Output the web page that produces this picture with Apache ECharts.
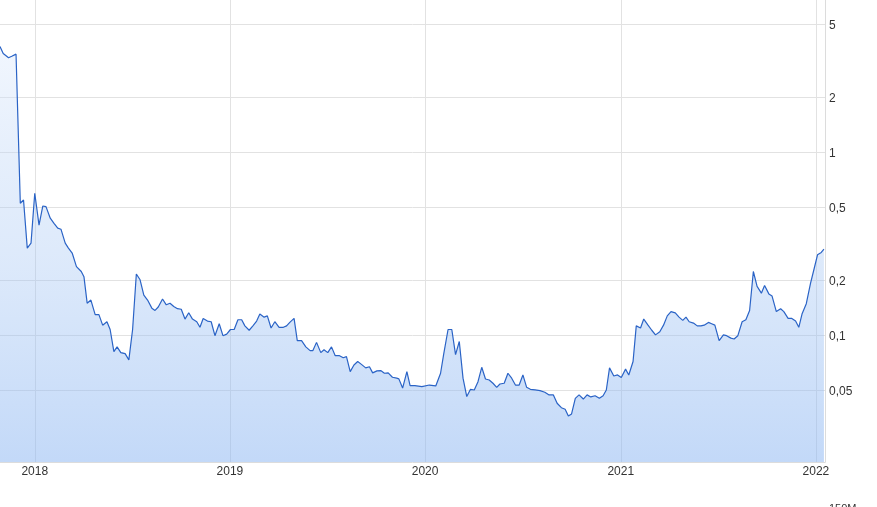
<!DOCTYPE html>
<html>
<head>
<meta charset="utf-8">
<script src="https://cdn.jsdelivr.net/npm/echarts@6/dist/echarts.min.js"></script>
<style>html,body{margin:0;padding:0;background:#fff}#c{width:877px;height:507px}</style>
</head>
<body>
<div id="c"></div>
<script>
// Dates (weekly-ish readings)
const dates = [
 '2017-10-28','2017-11-03','2017-11-13','2017-11-19','2017-11-27','2017-12-05','2017-12-11','2017-12-18','2017-12-25',
 '2018-01-01','2018-01-09','2018-01-16','2018-01-22','2018-01-30','2018-02-06','2018-02-13','2018-02-19','2018-02-27','2018-03-05','2018-03-12','2018-03-20','2018-03-29','2018-04-03','2018-04-09','2018-04-16','2018-04-24','2018-05-01','2018-05-08','2018-05-16','2018-05-22','2018-05-29','2018-06-04','2018-06-11','2018-06-19','2018-06-26','2018-07-03','2018-07-10',
 '2018-07-17','2018-07-24','2018-07-31','2018-08-08','2018-08-14','2018-08-20','2018-08-28','2018-09-04','2018-09-11','2018-09-18','2018-09-25','2018-10-02','2018-10-09','2018-10-16','2018-10-23','2018-10-31','2018-11-06','2018-11-12','2018-11-20','2018-11-27','2018-12-04','2018-12-12','2018-12-19','2018-12-26',
 '2019-01-02','2019-01-09','2019-01-16','2019-01-23','2019-01-29','2019-02-06','2019-02-13','2019-02-20','2019-02-26','2019-03-06','2019-03-12','2019-03-19','2019-03-26','2019-04-03','2019-04-11','2019-04-17','2019-04-23',
 '2019-05-01','2019-05-07','2019-05-15','2019-05-23','2019-05-31','2019-06-05','2019-06-12','2019-06-20','2019-06-26','2019-07-03','2019-07-10','2019-07-17','2019-07-25','2019-08-01','2019-08-07','2019-08-14','2019-08-21','2019-08-28','2019-09-04','2019-09-12','2019-09-19','2019-09-25','2019-10-03','2019-10-10','2019-10-17','2019-10-24','2019-11-01','2019-11-09','2019-11-13','2019-11-20','2019-11-28','2019-12-04','2019-12-13','2019-12-26',
 '2020-01-09','2020-01-21','2020-01-30','2020-02-05','2020-02-13','2020-02-20','2020-02-27','2020-03-05','2020-03-12','2020-03-19','2020-03-26','2020-04-02','2020-04-09','2020-04-16','2020-04-23','2020-04-30','2020-05-07','2020-05-14','2020-05-20','2020-05-28','2020-06-04','2020-06-11','2020-06-18','2020-06-25','2020-07-02','2020-07-09','2020-07-16','2020-07-25','2020-08-03','2020-08-12','2020-08-20','2020-08-28','2020-09-04','2020-09-12','2020-09-19','2020-09-25','2020-10-01','2020-10-08','2020-10-15','2020-10-23','2020-10-30','2020-11-06','2020-11-14','2020-11-22','2020-11-29','2020-12-05','2020-12-11','2020-12-19','2020-12-26',
 '2021-01-02','2021-01-10','2021-01-16','2021-01-24','2021-01-30','2021-02-07','2021-02-13','2021-02-21','2021-02-28','2021-03-07','2021-03-15','2021-03-22','2021-03-29','2021-04-05','2021-04-13','2021-04-20','2021-04-27','2021-05-03','2021-05-09','2021-05-17','2021-05-24','2021-05-31','2021-06-06','2021-06-14','2021-06-20','2021-06-26','2021-07-04','2021-07-12','2021-07-18','2021-07-26','2021-08-01','2021-08-08','2021-08-16','2021-08-23','2021-08-30','2021-09-06','2021-09-13','2021-09-21','2021-09-27','2021-10-05','2021-10-11','2021-10-19','2021-10-27','2021-11-02','2021-11-10','2021-11-17','2021-11-24','2021-11-30','2021-12-06','2021-12-14','2021-12-22','2021-12-29','2022-01-04','2022-01-11','2022-01-16'
];
// Prices (log-scale readings)
const prices = [
 3.76,3.45,3.27,3.33,3.42,0.524,0.546,0.298,0.317,
 0.594,0.398,0.506,0.502,0.434,0.407,0.383,0.378,0.317,0.298,0.280,0.236,0.222,0.208,0.149,0.155,0.129,0.129,0.113,0.118,0.107,0.081,0.086,0.080,0.079,0.073,0.107,0.215,
 0.200,0.165,0.155,0.140,0.136,0.142,0.157,0.146,0.149,0.143,0.139,0.138,0.122,0.132,0.122,0.118,0.110,0.123,0.119,0.118,0.099,0.115,0.099,0.101,
 0.107,0.107,0.121,0.121,0.112,0.106,0.112,0.119,0.130,0.125,0.127,0.109,0.118,0.110,0.110,0.112,0.117,
 0.123,0.093,0.093,0.086,0.082,0.082,0.091,0.080,0.083,0.080,0.086,0.077,0.077,0.075,0.076,0.063,0.0685,0.0715,0.069,0.066,0.067,0.062,0.0636,0.0638,0.0617,0.062,0.0587,0.058,0.0575,0.0512,0.063,0.0528,0.0528,0.0521,
 0.0532,0.0526,0.0617,0.079,0.107,0.107,0.078,0.092,0.058,0.046,0.0504,0.050,0.0555,0.0665,0.0574,0.0567,0.0544,0.0517,0.0539,0.0544,0.0617,0.058,0.0532,0.0532,0.0604,0.0517,0.0504,0.050,0.0496,0.0486,0.047,0.047,0.0423,0.040,0.0392,0.036,0.037,0.045,0.047,0.0446,0.047,0.0458,0.0465,0.045,0.0465,0.050,0.066,0.0596,0.0604,
 0.0585,0.065,0.0604,0.0715,0.112,0.109,0.122,0.113,0.106,0.100,0.104,0.113,0.127,0.134,0.132,0.125,0.120,0.125,0.118,0.116,0.112,0.112,0.113,0.117,0.115,0.113,0.093,0.100,0.099,0.096,0.095,0.099,0.118,0.121,0.136,0.222,0.184,0.169,0.186,0.1675,0.163,0.134,0.139,0.134,0.123,0.123,0.119,0.110,0.130,0.148,0.192,0.232,0.274,0.282,0.294
];
// Y tick labels
const yTicks = [0.05, 0.1, 0.2, 0.5, 1, 2, 5];
const volumeLabel = '150M';

const chart = echarts.init(document.getElementById('c'), null, {renderer: 'canvas'});
const seriesData = dates.map((d, i) => [d, prices[i]]);
const FONT = 'Liberation Sans, Arial, sans-serif';

chart.setOption({
  animation: false,
  backgroundColor: '#ffffff',
  grid: {left: 0, right: 52, top: 0, bottom: 45, containLabel: false},
  xAxis: {
    type: 'time',
    min: '2017-10-28',
    max: '2022-01-18',
    minInterval: 365 * 24 * 3600 * 1000,
    splitNumber: 4,
    axisLine: {show: true, lineStyle: {color: '#dcdcdc', width: 1}},
    axisTick: {show: false},
    axisLabel: {
      color: '#333', fontSize: 12, fontFamily: FONT, margin: 4,
      formatter: '{yyyy}', showMinLabel: false, showMaxLabel: false
    },
    splitLine: {show: true, showMinLine: false, showMaxLine: false, lineStyle: {color: '#e2e2e2', width: 1}}
  },
  yAxis: {
    type: 'log',
    position: 'right',
    min: 0.0202,
    max: 6.76,
    axisLine: {show: true, lineStyle: {color: '#dcdcdc', width: 1}},
    axisTick: {show: false, customValues: yTicks},
    axisLabel: {
      customValues: yTicks,
      color: '#333', fontSize: 12, fontFamily: FONT, margin: 4,
      formatter: v => '{t|' + String(v).replace('.', ',') + '}',
      rich: {t: {color: '#333', fontSize: 12, fontFamily: FONT, padding: [4, 0, 0, 0]}}
    },
    splitLine: {show: true, lineStyle: {color: '#e2e2e2', width: 1}}
  },
  graphic: [{
    type: 'text', left: 829, top: 503,
    style: {text: volumeLabel, fill: '#333', font: '11px ' + FONT}
  }],
  series: [{
    type: 'line',
    data: seriesData,
    showSymbol: false,
    symbol: 'none',
    lineStyle: {color: '#2a63c6', width: 1.2},
    areaStyle: {
      color: new echarts.graphic.LinearGradient(0, 0, 0, 1, [
        {offset: 0, color: 'rgba(222,234,252,0.6)'},
        {offset: 0.5, color: 'rgba(160,195,243,0.5)'},
        {offset: 1, color: 'rgba(140,182,242,0.75)'}
      ])
    }
  }]
});
</script>
</body>
</html>
